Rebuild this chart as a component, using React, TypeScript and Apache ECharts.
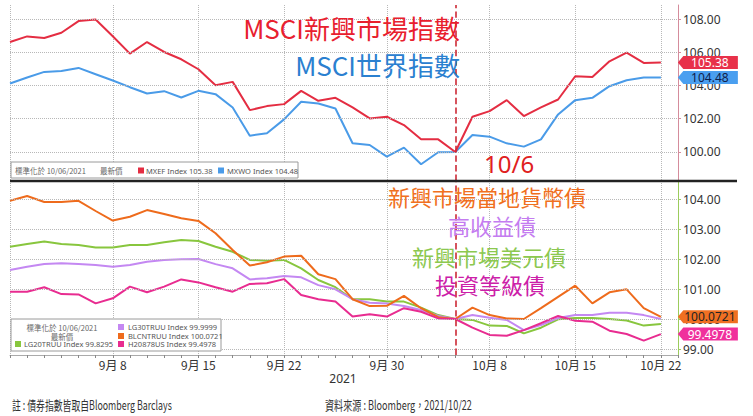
import { useEffect, useRef } from 'react';
import * as echarts from 'echarts';

// trading days (weekdays) shown on the category axis
const dates = [
  '2021-08-31', '2021-09-01', '2021-09-02', '2021-09-03',
  '2021-09-06', '2021-09-07', '2021-09-08', '2021-09-09', '2021-09-10',
  '2021-09-13', '2021-09-14', '2021-09-15', '2021-09-16', '2021-09-17',
  '2021-09-20', '2021-09-21', '2021-09-22', '2021-09-23', '2021-09-24',
  '2021-09-27', '2021-09-28', '2021-09-29', '2021-09-30', '2021-10-01',
  '2021-10-04', '2021-10-05', '2021-10-06', '2021-10-07', '2021-10-08',
  '2021-10-11', '2021-10-12', '2021-10-13', '2021-10-14', '2021-10-15',
  '2021-10-18', '2021-10-19', '2021-10-20', '2021-10-21', '2021-10-22',
];

// top panel: MSCI indices, normalised on 10/06/2021
const mxef = [
  106.62, 106.96, 106.86, 107.18, 107.88, 107.98, 106.97, 105.92, 106.62,
  106.02, 105.58, 104.98, 104.02, 104.22, 102.52, 102.76, 102.88, 103.68,
  103.08, 103.26, 102.68, 102.02, 102.12, 101.62, 100.76, 100.76, 100.0,
  102.12, 102.46, 103.12, 102.16, 102.68, 103.16, 104.56, 104.52, 105.46,
  105.98, 105.36, 105.38,
];
const mxwo = [
  104.12, 104.48, 104.82, 104.88, 105.06, 104.68, 104.3, 103.9, 103.52,
  103.66, 103.28, 103.68, 103.48, 102.68, 100.98, 101.12, 101.96, 103.02,
  102.92, 102.62, 100.52, 100.42, 99.72, 100.26, 99.26, 99.98, 100.0,
  101.02, 100.92, 100.52, 100.32, 100.76, 102.26, 103.12, 103.26, 103.96,
  104.32, 104.48, 104.48,
];

// bottom panel: bond indices, normalised on 10/06/2021
const blcntruu = [
  103.94, 104.1, 103.9, 103.9, 103.94, 103.6, 103.28, 103.41, 103.63,
  103.5, 103.36, 103.27, 102.86, 102.3, 101.78, 101.89, 102.08, 102.11,
  101.49, 101.33, 100.66, 100.43, 100.44, 100.77, 100.36, 100.06, 100.0,
  100.38, 100.13, 100.02, 100.0, 100.36, 100.74, 101.11, 100.52, 100.89,
  100.99, 100.36, 100.0721,
];
const lg20truu = [
  102.41, 102.5, 102.58, 102.5, 102.47, 102.38, 102.38, 102.47, 102.47,
  102.56, 102.63, 102.6, 102.41, 102.24, 101.97, 101.94, 101.97, 101.69,
  101.3, 101.06, 100.66, 100.66, 100.58, 100.58, 100.38, 100.13, 100.0,
  99.97, 99.78, 99.77, 99.52, 99.71, 99.99, 100.03, 100.03, 100.0,
  99.95, 99.78, 99.8295,
];
const lg30truu = [
  101.63, 101.74, 101.83, 101.86, 101.83, 101.8, 101.74, 101.8, 101.91,
  101.97, 101.99, 102.0, 101.83, 101.69, 101.32, 101.36, 101.43, 101.39,
  101.13, 100.99, 100.66, 100.54, 100.52, 100.43, 100.3, 100.1, 100.0,
  100.13, 100.04, 99.97, 99.63, 99.8, 100.03, 100.13, 100.13, 100.21,
  100.21, 100.13, 99.9999,
];
const h20878us = [
  100.91, 100.91, 101.06, 100.83, 100.82, 100.52, 100.69, 101.08, 100.89,
  101.08, 101.32, 101.22, 101.06, 100.91, 101.17, 101.19, 101.33, 100.8,
  100.66, 100.58, 100.08, 100.16, 100.08, 100.36, 100.24, 100.02, 100.0,
  99.71, 99.47, 99.44, 99.63, 99.86, 100.1, 99.94, 99.91, 99.61,
  99.5, 99.28, 99.4978,
];

const topTicks = [100, 102, 104, 106, 108];
const bottomTicks = [99, 100, 101, 102, 103, 104];
const labelDates = ['2021-09-08', '2021-09-15', '2021-09-22', '2021-09-30', '2021-10-08', '2021-10-15', '2021-10-22'];
const gridDates = ['2021-08-31', ...labelDates];
const baseDate = '2021-10-06';

// one empty slot after the last day leaves the gap before the right axis
const categories = [...dates, ''];

const CJK = '"Noto Sans CJK TC", "Noto Sans", sans-serif';
const LATIN = '"Noto Sans", "Noto Sans CJK TC", sans-serif';

const last = (a: number[]) => a[a.length - 1];

function dateLabel(v: string) {
  if (!v) return '';
  const [, m, d] = v.split('-');
  return `${parseInt(m, 10)}月 ${parseInt(d, 10)}`;
}

function gridMarks(ticks: number[]) {
  return {
    silent: true,
    symbol: 'none',
    label: { show: false },
    lineStyle: { type: 'dotted', color: '#b8b8b8', width: 1 },
    data: [
      ...ticks.map((v) => ({ yAxis: v })),
      { xAxis: baseDate, lineStyle: { type: 'dashed', color: '#cc2a36', width: 1.6 } },
    ],
  };
}

function tag(values: number[], bg: string, fg: string) {
  const v = last(values);
  return {
    silent: true,
    symbol: 'path://M0,6L6,0H66V12H6Z',
    symbolSize: [60, 13],
    symbolOffset: [47, 0],
    itemStyle: { color: bg },
    label: {
      show: true,
      position: 'inside',
      offset: [2, 0],
      color: fg,
      fontSize: 12,
      fontFamily: LATIN,
      formatter: () => String(v),
    },
    data: [{ coord: [last(dates), v], value: v }],
  };
}

function line(name: string, data: number[], color: string, idx: number, z: number, extra = {}) {
  return {
    name,
    type: 'line',
    xAxisIndex: idx,
    yAxisIndex: idx,
    data,
    showSymbol: false,
    z,
    lineStyle: { color, width: 2 },
    itemStyle: { color },
    ...extra,
  };
}

function txt(text: string, x: number, y: number, color: string, size: number, align = 'left', family = CJK) {
  return {
    type: 'text',
    x,
    y,
    z: 50,
    style: { text, fill: color, fontSize: size, fontFamily: family, align, verticalAlign: 'middle' },
  };
}

function swatch(x: number, y: number, color: string) {
  return { type: 'rect', z: 50, shape: { x, y: y - 3, width: 6, height: 6 }, style: { fill: color } };
}

export default function App() {
  const chartRef = useRef<HTMLDivElement>(null);

  useEffect(() => {
    if (!chartRef.current) return;
    document.body.style.margin = '0';
    const chart = echarts.init(chartRef.current, null, { renderer: 'svg' });

    const xBase = {
      type: 'category',
      data: categories,
      boundaryGap: false,
      splitLine: {
        show: true,
        interval: (_i: number, v: string) => gridDates.includes(v),
        lineStyle: { type: 'dotted', color: '#b8b8b8' },
      },
    };

    const yBase = (ticks: number[], axisColor: string) => ({
      type: 'value',
      position: 'right',
      splitLine: { show: false },
      axisLine: { show: true, lineStyle: { color: axisColor, width: 1 } },
      axisTick: { show: true, length: 3, customValues: ticks },
      axisLabel: {
        customValues: ticks,
        margin: 5,
        color: '#333',
        fontSize: 12,
        fontFamily: LATIN,
        formatter: (v: number) => v.toFixed(2),
      },
    });

    const option = {
      animation: false,
      backgroundColor: '#fff',
      grid: [
        { left: 10, right: 75, top: 5, height: 176 },
        { left: 10, right: 75, top: 181, height: 174 },
      ],
      xAxis: [
        {
          ...xBase,
          gridIndex: 0,
          axisLine: { show: false },
          axisTick: { show: false },
          axisLabel: { show: false },
        },
        {
          ...xBase,
          gridIndex: 1,
          axisLine: { show: true, lineStyle: { color: '#aaa' } },
          axisTick: { show: true, interval: 0, length: 3, lineStyle: { color: '#888' } },
          axisLabel: {
            interval: (_i: number, v: string) => labelDates.includes(v),
            formatter: dateLabel,
            margin: 3,
            color: '#333',
            fontSize: 12,
            fontFamily: CJK,
          },
        },
      ],
      yAxis: [
        { ...yBase(topTicks, '#d58c9c'), gridIndex: 0, min: 98.25, max: 108.85 },
        { ...yBase(bottomTicks, '#9ccc5c'), gridIndex: 1, min: 98.8, max: 104.6 },
      ],
      series: [
        line('MXWO Index', mxwo, '#4a9be8', 0, 2, {
          markLine: gridMarks(topTicks),
          markPoint: tag(mxwo, '#4a9ff0', '#10204a'),
        }),
        line('MXEF Index', mxef, '#e42d42', 0, 3, {
          markPoint: tag(mxef, '#e8314a', '#fff'),
        }),
        line('LG20TRUU Index', lg20truu, '#88c63e', 1, 2, {
          markLine: gridMarks(bottomTicks),
        }),
        line('LG30TRUU Index', lg30truu, '#c488f2', 1, 3),
        line('BLCNTRUU Index', blcntruu, '#ee6b1c', 1, 4, {
          markPoint: tag(blcntruu, '#f07022', '#222'),
        }),
        line('H20878US Index', h20878us, '#e82c90', 1, 4, {
          markPoint: tag(h20878us, '#f0309c', '#fff'),
        }),
      ],
      graphic: [
        // panel divider
        { type: 'line', z: 40, shape: { x1: 10, y1: 181, x2: 737, y2: 181 }, style: { stroke: '#222', lineWidth: 2.5 } },

        // annotations
        txt('MSCI新興市場指數', 460, 27, '#e8202e', 26, 'right'),
        txt('MSCI世界指數', 460, 64, '#2a80d0', 26, 'right'),
        txt('10/6', 484, 163, '#e02020', 24, 'left', LATIN),
        txt('新興市場當地貨幣債', 388, 196, '#f07020', 22),
        txt('高收益債', 448, 225, '#c47cf0', 22),
        txt('新興市場美元債', 412, 256, '#8cc850', 22),
        txt('投資等級債', 435, 284, '#cc20a8', 22),

        // top legend
        { type: 'rect', z: 45, shape: { x: 11, y: 162, width: 287, height: 16 }, style: { fill: '#fff', stroke: '#9a9a9a', lineWidth: 1 } },
        txt('標準化於 10/06/2021', 15, 170.5, '#666', 7.5),
        txt('最新價', 100, 170.5, '#666', 7.5),
        swatch(138, 170.5, '#e42d42'),
        txt(`MXEF Index ${last(mxef)}`, 146, 170.5, '#555', 7.5, 'left', LATIN),
        swatch(218, 170.5, '#4a9be8'),
        txt(`MXWO Index ${last(mxwo)}`, 227, 170.5, '#555', 7.5, 'left', LATIN),

        // bottom legend
        { type: 'rect', z: 45, shape: { x: 11, y: 319, width: 210, height: 32 }, style: { fill: '#fff', stroke: '#9a9a9a', lineWidth: 1 } },
        txt('標準化於 10/06/2021', 62, 327, '#666', 7.5, 'center'),
        txt('最新價', 62, 336, '#666', 7.5, 'center'),
        swatch(15, 344, '#88c63e'),
        txt(`LG20TRUU Index ${last(lg20truu)}`, 24, 344, '#555', 7.5, 'left', LATIN),
        swatch(118, 327, '#c488f2'),
        txt(`LG30TRUU Index ${last(lg30truu)}`, 128, 327, '#555', 7.5, 'left', LATIN),
        swatch(118, 336, '#ee6b1c'),
        txt(`BLCNTRUU Index ${last(blcntruu)}`, 128, 336, '#555', 7.5, 'left', LATIN),
        swatch(118, 344, '#e82c90'),
        txt(`H20878US Index ${last(h20878us)}`, 128, 344, '#555', 7.5, 'left', LATIN),

        // year under the axis
        txt('2021', 343, 378, '#333', 12, 'center', LATIN),

        // footers
        {
          type: 'text', x: 12, y: 404, scaleX: 0.68, z: 50,
          style: { text: '註 : 債券指數皆取自Bloomberg Barclays', fill: '#333', fontSize: 13, fontFamily: CJK, verticalAlign: 'middle' },
        },
        {
          type: 'text', x: 325, y: 404, scaleX: 0.7, z: 50,
          style: { text: '資料來源 : Bloomberg，2021/10/22', fill: '#333', fontSize: 13, fontFamily: CJK, verticalAlign: 'middle' },
        },
      ],
    };

    chart.setOption(option);

    return () => {
      chart.dispose();
    };
  }, []);

  return <div ref={chartRef} style={{ width: 753, height: 416 }}></div>;
}
